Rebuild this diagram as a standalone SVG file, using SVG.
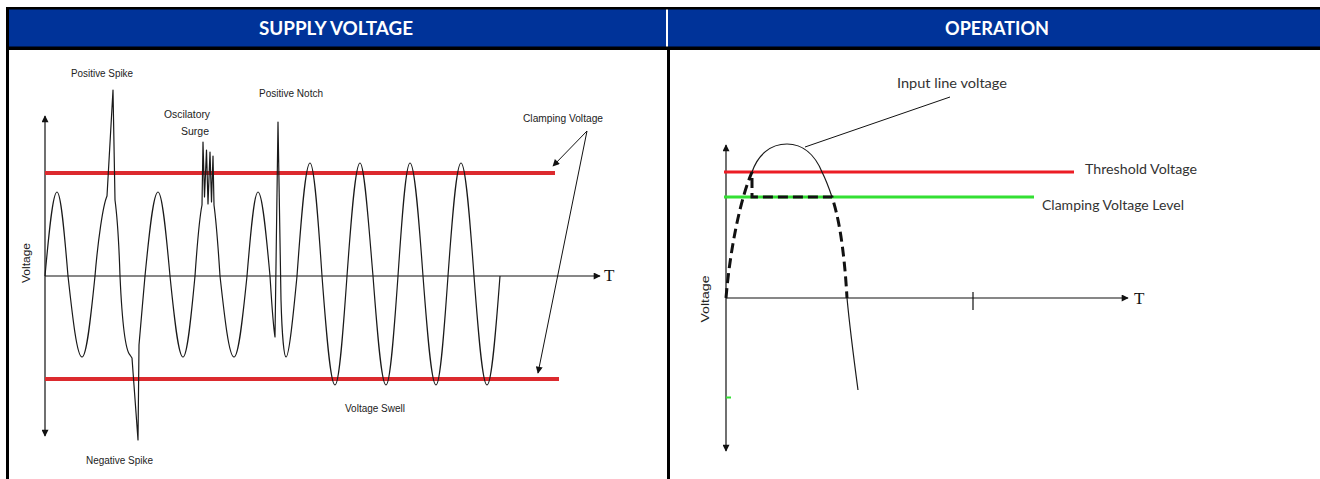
<svg xmlns="http://www.w3.org/2000/svg" width="1320" height="479" viewBox="0 0 1320 479">
<style>
.hdr{fill:#ffffff;font-family:Lato,"Open Sans","Liberation Sans",sans-serif;font-weight:bold;font-size:18px;text-anchor:middle}
.lbl{fill:#222;font-family:"Liberation Sans",Arial,sans-serif;font-size:10px}
.rlbl{fill:#333;font-family:Lato,"Open Sans","Liberation Sans",sans-serif;font-size:14px}
.tlbl{fill:#111;font-family:"Liberation Serif","Times New Roman",serif;font-size:17px}
.axis{stroke:#111;stroke-width:1.2;fill:none}
.wave{stroke:#1a1a1a;stroke-width:1.2;fill:none;stroke-linejoin:round}
.arr{stroke:#111;stroke-width:1;fill:none}
</style>
<defs>
<marker id="ah" viewBox="0 0 10 10" refX="9" refY="5" markerWidth="9" markerHeight="7" markerUnits="userSpaceOnUse" orient="auto-start-reverse">
<path d="M0,0 L10,5 L0,10 z" fill="#111"/>
</marker>
</defs>
<rect width="1320" height="479" fill="#ffffff"/>
<g id="table">
<rect x="6" y="7" width="1314" height="43" fill="#000"/>
<rect x="9" y="9.5" width="657" height="37" fill="#003399"/>
<rect x="668" y="9.5" width="652" height="37" fill="#003399"/>
<rect x="666" y="9.5" width="2" height="37" fill="#ffffff"/>
<rect x="6" y="47" width="3" height="432" fill="#000"/>
<rect x="667" y="47" width="3" height="432" fill="#000"/>
<text class="hdr" x="336" y="34.5" textLength="154" lengthAdjust="spacingAndGlyphs">SUPPLY VOLTAGE</text>
<text class="hdr" x="997" y="34.5" textLength="104" lengthAdjust="spacingAndGlyphs">OPERATION</text>
</g>
<g id="supply-voltage">
<line x1="45" y1="116" x2="45" y2="436" class="axis" marker-start="url(#ah)" marker-end="url(#ah)"/>
<line x1="45" y1="276" x2="600" y2="276" class="axis" marker-end="url(#ah)"/>
<text class="tlbl" x="604" y="281">T</text>
<text class="lbl" transform="translate(30,263) rotate(-90)" text-anchor="middle" textLength="40" lengthAdjust="spacingAndGlyphs">Voltage</text>
<line x1="45" y1="173" x2="555" y2="173" stroke="#dc2a2e" stroke-width="4"/>
<line x1="45" y1="379" x2="559" y2="379" stroke="#dc2a2e" stroke-width="4"/>
<path class="wave" d="M45,276 C48.9,233 52.7,192 57,192 C61,192 64.4,233 68,276
C72.6,317.5 77,357 82,357 C86.7,357 90.8,317.5 95,276
C98,240 103,205 107,196 L113,90 L115,200 C117,215 119,245 120,276
C122,320 125,350 130,355 L132,358 L138,440 L139,345 C141,320 143,300 145,276
C149.2,233 153.3,192 158,192 C162.3,192 166.1,233 170,276
C174.2,317.5 178.3,357 183,357 C187.3,357 191.1,317.5 195,276
C197.5,240 200,215 202,205 L203,142 L204.5,197 L206.5,150 L208,204 L210,152 L211.5,202 L213,156 L214,205 C216,220 218,245 220,276
C224.6,317.5 229,357 234,357 C238.7,357 242.8,317.5 247,276
C250.6,233 254,192 258,192 C262.3,192 266.1,233 270,276
C271.5,300 273,325 275,337 L278,122 L281,300 C282,335 284,357 286,357 C289,357 293,318 297,276
C301.2,218 305.3,163 310,163 C314.3,163 318.1,218 322,276
C326.2,331.8 330.3,385 335,385 C339.3,385 343.1,331.8 347,276
C351.2,218 355.3,163 360,163 C364.3,163 368.1,218 373,276
C377.2,331.8 381.3,385 386,385 C390.3,385 394.1,331.8 398,276
C401.9,218 405.7,163 410,163 C414.7,163 418.8,218 423,276
C427.2,331.8 431.3,385 436,385 C440.3,385 444.1,331.8 448,276
C452.2,218 456.3,163 461,163 C465.7,163 469.8,218 474,276
C478.2,331.8 482.3,385 487,385 C491.7,385 495.8,331.8 500,276"/>
<text class="lbl" x="71" y="77" textLength="62" lengthAdjust="spacingAndGlyphs">Positive Spike</text>
<text class="lbl" x="164" y="118" textLength="46" lengthAdjust="spacingAndGlyphs">Oscilatory</text>
<text class="lbl" x="181" y="135" textLength="28" lengthAdjust="spacingAndGlyphs">Surge</text>
<text class="lbl" x="259" y="97" textLength="64" lengthAdjust="spacingAndGlyphs">Positive Notch</text>
<text class="lbl" x="523" y="122" textLength="80" lengthAdjust="spacingAndGlyphs">Clamping Voltage</text>
<text class="lbl" x="86" y="464" textLength="67" lengthAdjust="spacingAndGlyphs">Negative Spike</text>
<text class="lbl" x="345" y="412" textLength="60" lengthAdjust="spacingAndGlyphs">Voltage Swell</text>
</g>
<g id="connectors">
<line x1="587" y1="131" x2="553" y2="166" class="arr" marker-end="url(#ah)"/>
<line x1="587" y1="131" x2="538" y2="373" class="arr" marker-end="url(#ah)"/>
<line x1="950" y1="97" x2="805" y2="147" class="arr"/>
</g>
<g id="operation">
<line x1="726" y1="145" x2="726" y2="451" class="axis" marker-start="url(#ah)" marker-end="url(#ah)"/>
<line x1="726" y1="298" x2="1128" y2="298" class="axis" marker-end="url(#ah)"/>
<line x1="973" y1="292" x2="973" y2="310" class="axis"/>
<text class="tlbl" x="1134" y="304">T</text>
<text class="lbl" transform="translate(709,299) rotate(-90)" text-anchor="middle" font-size="11" textLength="47" lengthAdjust="spacingAndGlyphs">Voltage</text>
<line x1="724" y1="172" x2="1074" y2="172" stroke="#ec1c24" stroke-width="3"/>
<line x1="724" y1="197" x2="1034" y2="197" stroke="#33e033" stroke-width="3"/>
<line x1="726" y1="397.5" x2="731" y2="397.5" stroke="#33e033" stroke-width="2"/>
<path class="wave" d="M752,172 C758,155 770,144 787,144 C803,144 815,155 822,172 C826,180 829,188 832,197"/>
<path class="wave" d="M847,298 C850,330 854,360 858,390"/>
<path d="M726,298 C730,250 740,200 752,172 L752,197 L832,197 C838,215 844,245 847,298" fill="none" stroke="#111" stroke-width="3" stroke-dasharray="10 5"/>
<text class="rlbl" x="897" y="88" textLength="110" lengthAdjust="spacingAndGlyphs">Input line voltage</text>
<text class="rlbl" x="1085" y="174" textLength="112" lengthAdjust="spacingAndGlyphs">Threshold Voltage</text>
<text class="rlbl" x="1042" y="210" textLength="142" lengthAdjust="spacingAndGlyphs">Clamping Voltage Level</text>
</g>
</svg>
